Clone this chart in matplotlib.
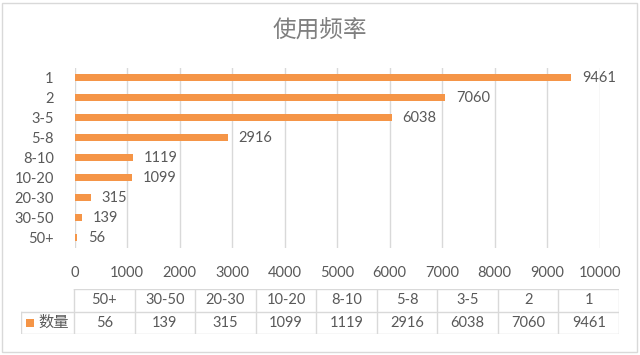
import matplotlib.pyplot as plt
from matplotlib.patches import Rectangle

# data
categories = ['1', '2', '3-5', '5-8', '8-10', '10-20', '20-30', '30-50', '50+']
counts = [9461, 7060, 6038, 2916, 1119, 1099, 315, 139, 56]
series_name = '数量'
title = '使用频率'
x_ticks = [0, 1000, 2000, 3000, 4000, 5000, 6000, 7000, 8000, 9000, 10000]

plt.rcParams['font.family'] = ['Lato', 'Noto Sans CJK SC', 'DejaVu Sans']

bar_color = '#F59547'
text_color = '#595959'
line_color = '#D9D9D9'
fs = 10.5

W, H = 640, 355
fig = plt.figure(figsize=(6.4, 3.55), dpi=100)


def px_box(x0, y0, x1, y1):
    # pixel box (top-left origin) -> figure fraction rect
    return [x0 / W, 1 - y1 / H, (x1 - x0) / W, (y1 - y0) / H]


# outer chart border
fig.patches.append(Rectangle((2 / W, 3 / H), 635 / W, 349 / H, transform=fig.transFigure,
                             fill=False, edgecolor=line_color, lw=1))

fig.text(320 / W, 1 - 31 / H, title, ha='center', va='center', fontsize=17,
         color='#7F7F7F', family=['Noto Sans CJK SC', 'DejaVu Sans'])

# bar chart
ax = fig.add_axes(px_box(74.5, 67.5, 599.7, 247.7))
ypos = list(range(len(categories)))
ax.barh(ypos, counts, height=0.34, color=bar_color, zorder=3)
ax.set_ylim(len(categories) - 0.5, -0.5)
ax.set_xlim(0, 10000)
ax.set_xticks(x_ticks)
ax.set_xticklabels([str(t) for t in x_ticks])
ax.set_yticks(ypos)
ax.set_yticklabels(categories)
ax.tick_params(length=0, labelsize=fs, colors=text_color)
ax.tick_params(axis='x', pad=13)
ax.tick_params(axis='y', pad=15)
ax.grid(axis='x', color=line_color, lw=1, zorder=0)
for s in ax.spines.values():
    s.set_visible(False)
for y, v in zip(ypos, counts):
    ax.text(v + 200, y, str(v), va='center', ha='left', fontsize=fs, color=text_color)

# data table
tab = fig.add_axes(px_box(20.7, 289, 619, 334))
n = len(categories)
leg_w = (74 - 20.7) / ((619 - 74) / n)
tab.set_xlim(-leg_w, n)
tab.set_ylim(0, 2)
tab.axis('off')
tab.plot([0, n], [2, 2], color=line_color, lw=1)
tab.plot([-leg_w, n], [1, 1], color=line_color, lw=1)
tab.plot([-leg_w, n], [0, 0], color=line_color, lw=1)
tab.plot([-leg_w, -leg_w], [0, 1], color=line_color, lw=1)
for i in range(n + 1):
    tab.plot([i, i], [0, 2], color=line_color, lw=1)
for i, (c, v) in enumerate(zip(categories[::-1], counts[::-1])):
    tab.text(i + 0.5, 1.5, c, ha='center', va='center', fontsize=fs, color=text_color)
    tab.text(i + 0.5, 0.5, str(v), ha='center', va='center', fontsize=fs, color=text_color)
tab.add_patch(Rectangle((-leg_w + 0.09, 0.31), 0.135, 0.36, color=bar_color, lw=0))
tab.text(-leg_w + 0.3, 0.5, series_name, ha='left', va='center', fontsize=11,
         color=text_color, family=['Noto Sans CJK SC', 'DejaVu Sans'])

fig.savefig('out.png', dpi=100)
